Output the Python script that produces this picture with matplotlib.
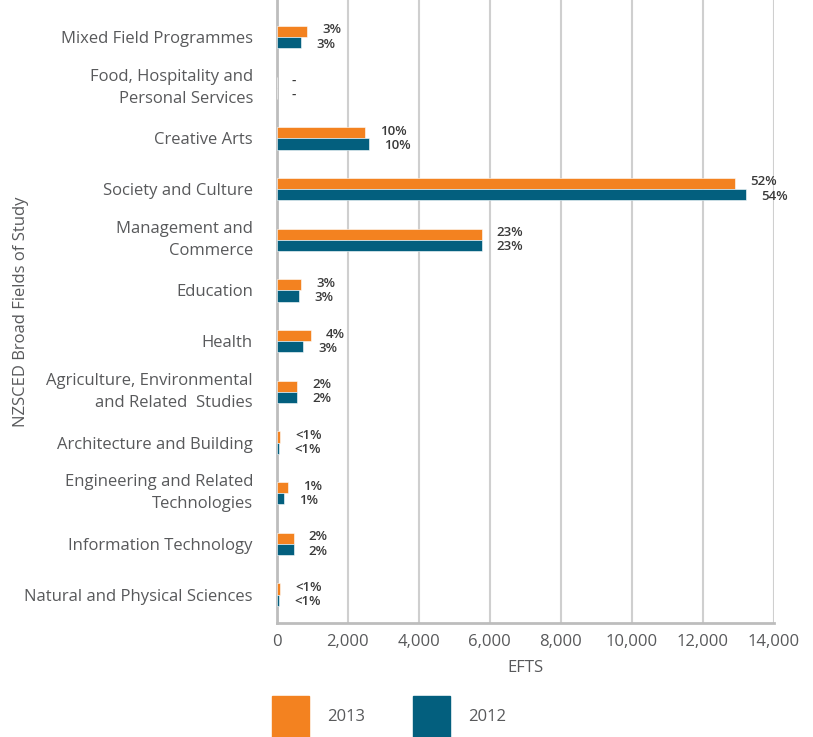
import matplotlib
matplotlib.use("Agg")
import matplotlib.pyplot as plt
from matplotlib.patches import Rectangle
from matplotlib.ticker import FuncFormatter
import numpy as np

# ── Data ───────────────────────────────────────────────────────────────────
fields = [
    "Mixed Field Programmes",
    "Food, Hospitality and\nPersonal Services",
    "Creative Arts",
    "Society and Culture",
    "Management and\nCommerce",
    "Education",
    "Health",
    "Agriculture, Environmental\nand Related  Studies",
    "Architecture and Building",
    "Engineering and Related\nTechnologies",
    "Information Technology",
    "Natural and Physical Sciences",
]
efts_2013 = [850, 0, 2480, 12910, 5770, 680, 960, 570, 90, 310, 480, 90]
efts_2012 = [680, 0, 2600, 13210, 5770, 640, 740, 580, 80, 210, 480, 80]
share_2013 = ["3%", "-", "10%", "52%", "23%", "3%", "4%", "2%", "<1%", "1%", "2%", "<1%"]
share_2012 = ["3%", "-", "10%", "54%", "23%", "3%", "3%", "2%", "<1%", "1%", "2%", "<1%"]
years = ["2013", "2012"]

# ── Palette ────────────────────────────────────────────────────────────────
ORANGE = "#F38220"
TEAL = "#035F7E"
TEXT = "#58595B"
LABEL = "#3A3A3A"
GRID = "#CFCFCF"
SPINE = "#BDBDBD"
FONT = "Open Sans"
FS = 12

W, H = 813, 737
fig = plt.figure(figsize=(W / 100, H / 100), dpi=100, facecolor="white")
ax = fig.add_axes([276.5 / W, 1 - 623 / H, (774 - 276.5) / W, 623 / H])

y = np.arange(len(fields))
bh = 0.22
ax.barh(y - bh / 2, efts_2013, height=bh, color=ORANGE, edgecolor="white",
        linewidth=0.4, zorder=3)
ax.barh(y + bh / 2, efts_2012, height=bh, color=TEAL, edgecolor="white",
        linewidth=0.4, zorder=3)

# share labels to the right of each bar
for i in range(len(fields)):
    for val, txt, dy in ((efts_2013[i], share_2013[i], -bh / 2 - 0.03),
                         (efts_2012[i], share_2012[i], bh / 2 + 0.03)):
        ax.annotate(txt, (val, y[i] + dy), xytext=(11, 0),
                    textcoords="offset points", ha="left", va="center",
                    fontsize=9.5, color=LABEL, fontweight="semibold",
                    family=[FONT, "DejaVu Sans"], fontstretch="condensed")

ax.set_xlim(0, 14000)
ax.set_ylim(len(fields) - 1 + 0.56, -0.73)
ax.set_xticks(np.arange(0, 14001, 2000))
ax.xaxis.set_major_formatter(FuncFormatter(lambda v, _: f"{int(v):,}"))
ax.set_yticks(y)
ax.set_yticklabels(fields, fontsize=FS, color=TEXT, family=FONT,
                   linespacing=1.5)
for lab in ax.get_yticklabels():
    if "\n" in lab.get_text():
        lab.set_va("center")
ax.tick_params(axis="y", length=0, pad=17)
ax.tick_params(axis="x", length=0, pad=8, labelsize=FS, labelcolor=TEXT)
for lab in ax.get_xticklabels():
    lab.set_family(FONT)

ax.grid(axis="x", color=GRID, linewidth=1.5, zorder=0)
ax.set_axisbelow(True)
for side in ("top", "right"):
    ax.spines[side].set_visible(False)
for side in ("left", "bottom"):
    ax.spines[side].set_color(SPINE)
    ax.spines[side].set_linewidth(2)

ax.set_xlabel("EFTS", fontsize=FS, color=TEXT, family=FONT, labelpad=7)
fig.text(21 / W, 1 - 312 / H, "NZSCED Broad Fields of Study", rotation=90,
         ha="center", va="center", fontsize=FS, color=TEXT, family=FONT)

# legend swatches along the bottom edge
for x0, col, yr in ((272, ORANGE, years[0]), (413, TEAL, years[1])):
    fig.add_artist(Rectangle((x0 / W, 0), 37 / W, 41 / H, color=col,
                             transform=fig.transFigure))
    fig.text((x0 + 55) / W, 1 - 717 / H, yr, ha="left", va="center",
             fontsize=FS, color=TEXT, family=FONT)

fig.savefig("out.png", dpi=100, facecolor="white")
